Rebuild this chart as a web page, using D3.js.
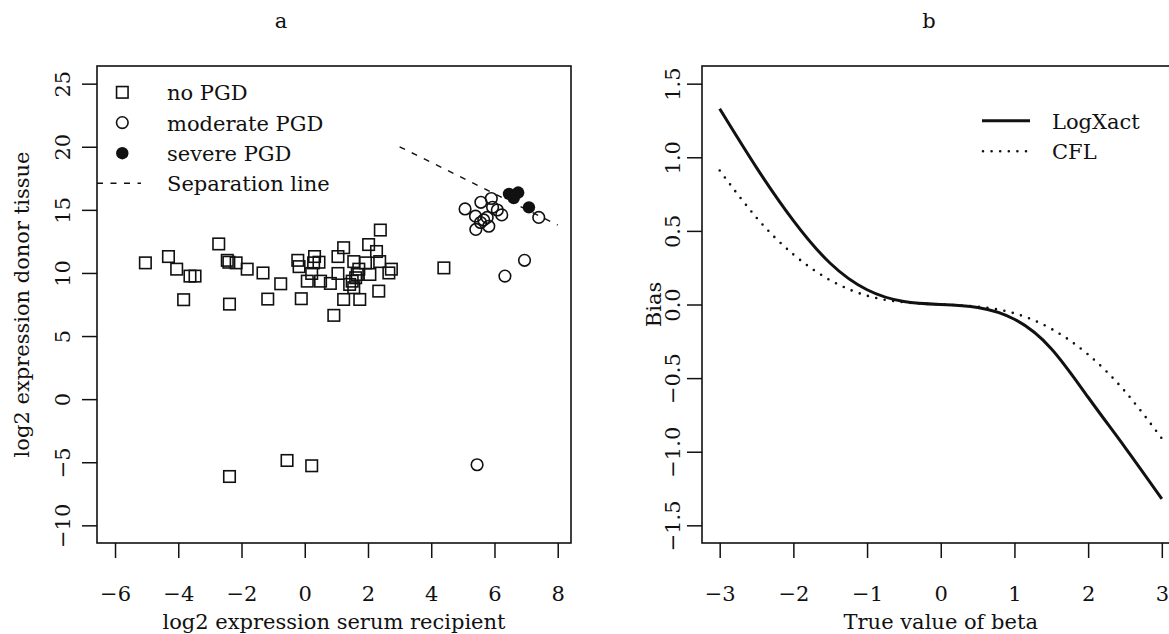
<!DOCTYPE html>
<html>
<head>
<meta charset="utf-8">
<script src="https://cdn.jsdelivr.net/npm/d3@7"></script>
<style>
  html, body { margin: 0; padding: 0; background: #fff; }
  svg { display: block; }
  text { font-family: "DejaVu Serif", serif; font-size: 21px; fill: #111; }
</style>
</head>
<body>
<svg id="chart" width="1169" height="634"></svg>
<script>
// Panel a: log2 expression, serum recipient (x) vs donor tissue (y)
const noPgdX = [-5.04, -4.31, -4.05, -3.63, -3.47, -3.83, -2.72, -2.45, -2.40, -2.17, -1.82, -2.38,
  -1.32, -0.76, -1.17, -0.22, -0.18, 0.31, 0.28, 0.45, 0.08, 0.22, 0.50, -0.11, 0.81, 1.05, 0.92,
  1.05, 2.39, 1.23, 2.02, 2.27, 1.55, 1.92, 2.37, 2.74, 2.66, 1.71, 1.66, 2.06, 1.42, 1.55, 1.50,
  1.61, 1.23, 1.74, 2.34, 4.40, -2.38, -0.56, 0.22];
const noPgdY = [10.8, 11.3, 10.3, 9.75, 9.75, 7.88, 12.3, 11.0, 10.85, 10.8, 10.3, 7.53,
  10.0, 9.14, 7.93, 11.0, 10.5, 11.3, 10.8, 10.85, 9.35, 9.96, 9.35, 7.96, 9.17, 11.3, 6.64,
  9.96, 13.4, 12.0, 12.25, 11.7, 10.9, 10.8, 10.9, 10.3, 10.0, 10.3, 9.88, 9.88, 9.09, 8.83, 9.35,
  9.62, 7.9, 7.9, 8.56, 10.4, -6.13, -4.86, -5.28];

const moderateX = [5.07, 5.57, 5.90, 5.40, 5.94, 6.09, 6.23, 5.66, 5.56, 5.82, 5.41, 5.77, 7.40, 6.95, 6.33, 5.45];
const moderateY = [15.07, 15.6, 15.9, 14.5, 15.2, 14.99, 14.6, 14.2, 14.0, 13.7, 13.45, 14.4, 14.4, 11.0, 9.75, -5.2];

const severeX = [6.46, 6.75, 6.61, 7.09];
const severeY = [16.26, 16.37, 15.94, 15.2];

const sepX = [3, 8];
const sepY = [20, 13.8];

const aTicksX = [-6, -4, -2, 0, 2, 4, 6, 8];
const aTicksY = [-10, -5, 0, 5, 10, 15, 20, 25];
const aLegend = ['no PGD', 'moderate PGD', 'severe PGD', 'Separation line'];

// Panel b: bias against the true value of beta
const beta = [-3, -2.5, -2, -1.5, -1, -0.5, 0, 0.5, 1, 1.5, 2, 2.5, 3];
const biasLogXact = [1.33, 0.93, 0.57, 0.28, 0.10, 0.02, 0.0, -0.02, -0.10, -0.30, -0.63, -0.97, -1.32];
const biasCFL = [0.91, 0.59, 0.34, 0.165, 0.06, 0.015, 0.0, -0.015, -0.06, -0.165, -0.34, -0.59, -0.91];

const bTicksX = [-3, -2, -1, 0, 1, 2, 3];
const bTicksY = [-1.5, -1, -0.5, 0, 0.5, 1, 1.5];
const bLegend = ['LogXact', 'CFL'];

const ink = '#111';
const svg = d3.select('#chart');
svg.append('rect').attr('width', 1169).attr('height', 634).attr('fill', '#fff');

const plotTop = 66, plotBottom = 543;
const xA = d3.scaleLinear().domain([-6.57, 8.42]).range([97, 571]);
const yA = d3.scaleLinear().domain([-11.4, 26.4]).range([plotBottom, plotTop]);
const xB = d3.scaleLinear().domain([-3.24, 3.24]).range([702, 1179.5]);
const yB = d3.scaleLinear().domain([-1.62, 1.62]).range([plotBottom, plotTop]);

function bottomAxis(scale, ticks, fmt) {
  const g = svg.append('g').attr('transform', 'translate(0,' + plotBottom + ')')
    .call(d3.axisBottom(scale).tickValues(ticks).tickSize(15).tickFormat(fmt));
  g.select('.domain').remove();
  g.selectAll('line').attr('stroke', ink).attr('stroke-width', 1.5);
  g.selectAll('text').attr('y', 58).attr('dy', 0).attr('fill', ink);
}

function leftAxis(scale, ticks, fmt, x0, off) {
  const g = svg.append('g').attr('transform', 'translate(' + x0 + ',0)')
    .call(d3.axisLeft(scale).tickValues(ticks).tickSize(15).tickFormat(fmt));
  g.select('.domain').remove();
  g.selectAll('line').attr('stroke', ink).attr('stroke-width', 1.5);
  g.selectAll('text')
    .attr('x', 0).attr('y', -off).attr('dy', 0)
    .attr('text-anchor', 'middle')
    .attr('transform', 'rotate(-90)')
    .attr('fill', ink);
}

function box(scale) {
  const [x0, x1] = scale.range();
  svg.append('rect')
    .attr('x', x0).attr('y', plotTop)
    .attr('width', x1 - x0).attr('height', plotBottom - plotTop)
    .attr('fill', 'none').attr('stroke', ink).attr('stroke-width', 1.6);
}

// ---- panel a ----
const fmtInt = d3.format('d');
bottomAxis(xA, aTicksX, fmtInt);
leftAxis(yA, aTicksY, fmtInt, 97, 27);

svg.append('text').attr('x', 281).attr('y', 28).attr('text-anchor', 'middle').text('a');
svg.append('text').attr('x', (97 + 571) / 2).attr('y', 629).attr('text-anchor', 'middle')
  .text('log2 expression serum recipient');
svg.append('text').attr('transform', 'translate(29,' + (plotTop + plotBottom) / 2 + ') rotate(-90)')
  .attr('text-anchor', 'middle').text('log2 expression donor tissue');

const sq = 11.5;
svg.append('g').selectAll('rect')
  .data(d3.range(noPgdX.length))
  .join('rect')
  .attr('x', i => xA(noPgdX[i]) - sq / 2)
  .attr('y', i => yA(noPgdY[i]) - sq / 2)
  .attr('width', sq).attr('height', sq)
  .attr('fill', 'none').attr('stroke', ink).attr('stroke-width', 1.6);

svg.append('g').selectAll('circle')
  .data(d3.range(moderateX.length))
  .join('circle')
  .attr('cx', i => xA(moderateX[i]))
  .attr('cy', i => yA(moderateY[i]))
  .attr('r', 5.8)
  .attr('fill', 'none').attr('stroke', ink).attr('stroke-width', 1.6);

svg.append('g').selectAll('circle')
  .data(d3.range(severeX.length))
  .join('circle')
  .attr('cx', i => xA(severeX[i]))
  .attr('cy', i => yA(severeY[i]))
  .attr('r', 6.2)
  .attr('fill', ink);

svg.append('line')
  .attr('x1', xA(sepX[0])).attr('y1', yA(sepY[0]))
  .attr('x2', xA(sepX[1])).attr('y2', yA(sepY[1]))
  .attr('stroke', ink).attr('stroke-width', 1.4).attr('stroke-dasharray', '6,7.5');

// legend a
const legA = svg.append('g');
const rowA = [92.3, 122.6, 153.2, 183.3];
legA.append('rect').attr('x', 122.3 - sq / 2).attr('y', rowA[0] - sq / 2).attr('width', sq).attr('height', sq)
  .attr('fill', 'none').attr('stroke', ink).attr('stroke-width', 1.6);
legA.append('circle').attr('cx', 122.3).attr('cy', rowA[1]).attr('r', 5.8)
  .attr('fill', 'none').attr('stroke', ink).attr('stroke-width', 1.6);
legA.append('circle').attr('cx', 122.3).attr('cy', rowA[2]).attr('r', 6.2).attr('fill', ink);
legA.append('line').attr('x1', 97).attr('x2', 141).attr('y1', rowA[3]).attr('y2', rowA[3])
  .attr('stroke', ink).attr('stroke-width', 1.4).attr('stroke-dasharray', '6,7.5');
legA.selectAll('text').data(aLegend).join('text')
  .attr('x', 167).attr('y', (d, i) => rowA[i] + 8).text(d => d);

box(xA);

// ---- panel b ----
bottomAxis(xB, bTicksX, fmtInt);
leftAxis(yB, bTicksY, d3.format('.1f'), 702, 22);

svg.append('text').attr('x', 929).attr('y', 28).attr('text-anchor', 'middle').text('b');
svg.append('text').attr('x', xB(0)).attr('y', 629).attr('text-anchor', 'middle').text('True value of beta');
svg.append('text').attr('transform', 'translate(661,' + (plotTop + plotBottom) / 2 + ') rotate(-90)')
  .attr('text-anchor', 'middle').text('Bias');

const line = d3.line().curve(d3.curveNatural);
svg.append('path')
  .attr('d', line(beta.map((b, i) => [xB(b), yB(biasLogXact[i])])))
  .attr('fill', 'none').attr('stroke', ink).attr('stroke-width', 3);
svg.append('path')
  .attr('d', line(beta.map((b, i) => [xB(b), yB(biasCFL[i])])))
  .attr('fill', 'none').attr('stroke', ink).attr('stroke-width', 2.6)
  .attr('stroke-linecap', 'round').attr('stroke-dasharray', '0,8.6');

// legend b
const legB = svg.append('g');
const rowB = [120.7, 151.2];
legB.append('line').attr('x1', 982).attr('x2', 1030).attr('y1', rowB[0]).attr('y2', rowB[0])
  .attr('stroke', ink).attr('stroke-width', 3);
legB.append('line').attr('x1', 983).attr('x2', 1030).attr('y1', rowB[1]).attr('y2', rowB[1])
  .attr('stroke', ink).attr('stroke-width', 2.6)
  .attr('stroke-linecap', 'round').attr('stroke-dasharray', '0,8.6');
legB.selectAll('text').data(bLegend).join('text')
  .attr('x', 1052).attr('y', (d, i) => rowB[i] + 8).text(d => d);

box(xB);
</script>
</body>
</html>
